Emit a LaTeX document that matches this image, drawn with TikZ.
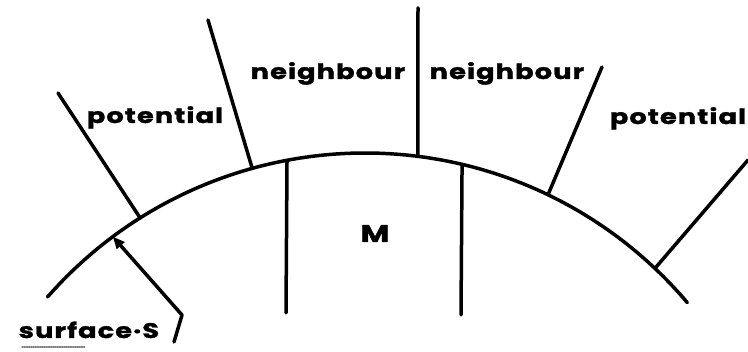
\documentclass[tikz,border=0pt]{standalone}
\usepackage{fontspec}
\setmainfont{Poppins}
\newfontfamily\labfont{Poppins}[FakeStretch=1.3,LetterSpace=5,FakeBold=1.5]
\usetikzlibrary{arrows.meta,calc}
\begin{document}
\begin{tikzpicture}[x=1pt,y=1pt,line width=3.5pt,line cap=round,line join=round,
  lbl/.style={font=\labfont\bfseries\fontsize{21}{21}\selectfont,inner sep=0pt,anchor=base},
  ptr/.style={-{Triangle[length=12pt,width=10pt]}}]
\useasboundingbox (0,0) rectangle (748,352);
\coordinate (O) at (365,-223);
% surface arc
\draw (O) ++(138.8:422) arc[start angle=138.8,end angle=40.2,radius=422];
% points on the arc
\coordinate (a1) at ($(O)+(122.2:422)$);
\coordinate (a2) at ($(O)+(105.5:422)$);
\coordinate (a3) at ($(O)+(100.65:422)$);
\coordinate (a4) at ($(O)+(82.8:422)$);
\coordinate (a5) at ($(O)+(76.7:422)$);
\coordinate (a6) at ($(O)+(64.3:422)$);
\coordinate (a7) at ($(O)+(46.6:422)$);
\coordinate (as) at ($(O)+(126.7:422)$);
% free ends
\coordinate (t1) at (58,259);
\coordinate (t2) at (208,332);
\coordinate (b3) at (286,39);
\coordinate (t4) at (418,344);
\coordinate (b5) at (461,37);
\coordinate (t6) at (602,285);
\coordinate (t7) at (748,192);
\coordinate (sb) at (182,37);
\coordinate (se) at (174,10);
% dividing lines
\draw (a1) -- (t1);
\draw (a2) -- (t2);
\draw (a3) -- (b3);
\draw (a4) -- (t4);
\draw (a5) -- (b5);
\draw (a6) -- (t6);
\draw (a7) -- (t7);
% labels
\node[lbl] (pl) at (155,229) {potential};
\node[lbl] (nl) at (328,273) {neighbour};
\node[lbl] (nr) at (507,273) {neighbour};
\node[lbl] (pr) at (678,228) {potential};
\node[lbl,font=\labfont\bfseries\fontsize{24}{24}\selectfont] (m) at (375,110) {M};
\node[lbl,anchor=base west] (s) at (17,14) {surface·S};
% pointer to surface
\draw[ptr] (se) -- (sb) -- (as);
\draw[line width=1.2pt,densely dotted,gray] (22,5) -- (85,5);
\end{tikzpicture}
\end{document}
